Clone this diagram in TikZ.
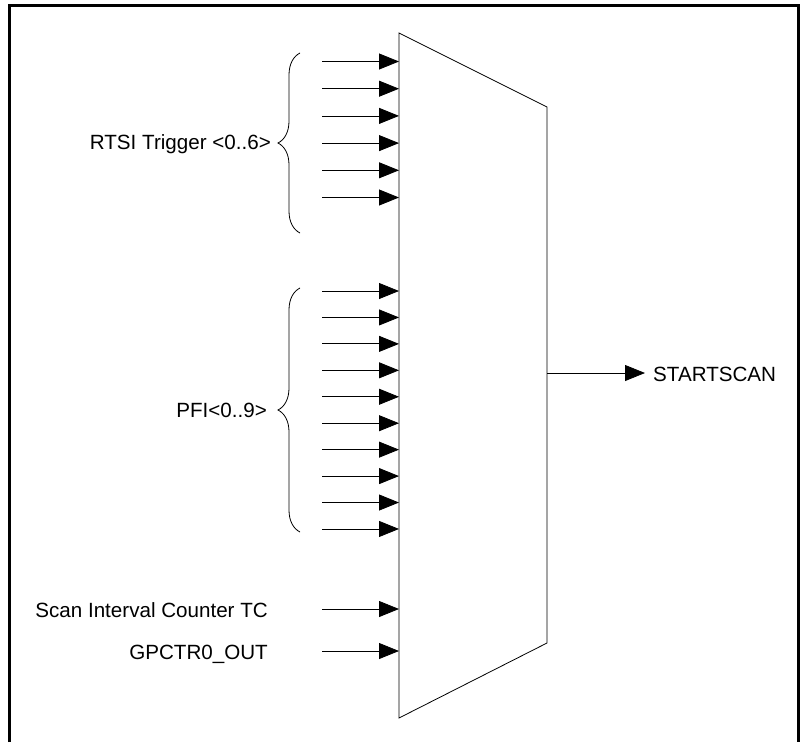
\documentclass[tikz,border=0pt]{standalone}
\usepackage{fontspec}
\setmainfont{Liberation Sans}
\usetikzlibrary{arrows.meta,decorations.pathreplacing}

\tikzset{
  sig/.style={line width=0.8pt, -{Triangle[length=20pt,width=16pt]}},
  lbl/.style={font=\fontsize{20.6}{24}\selectfont, inner sep=0pt},
  grp/.style={line width=0.8pt, decorate, decoration={brace, mirror, amplitude=22pt}}
}

\begin{document}
\begin{tikzpicture}[x=1pt, y=-1pt]
        \useasboundingbox (0,0) rectangle (800,742);
        % frame
        \draw[line width=3pt] (9,742) -- (9,5) -- (798,5) -- (798,742);
        % mux body
        \coordinate (muxTL) at (399,33);
        \coordinate (muxTR) at (547,107);
        \coordinate (muxBR) at (547,643);
        \coordinate (muxBL) at (399,718);
        \draw[line width=0.8pt] (muxTL) -- (muxTR) -- (muxBR) -- (muxBL) -- cycle;
        % RTSI inputs
        \foreach \i in {0,...,5} {
            \coordinate (rtsi\i) at (322, 61.5+27.2*\i);
            \coordinate (rtsiIn\i) at (399, 61.5+27.2*\i);
            \draw[sig] (rtsi\i) -- (rtsiIn\i);
        }
        \coordinate (rtsiTop) at (300,53);
        \coordinate (rtsiBot) at (300,233);
        \draw[grp] (rtsiTop) -- (rtsiBot);
        \node[lbl, anchor=base east] (rtsiLbl) at (271,149.5) {RTSI Trigger <0..6>};
        % PFI inputs
        \foreach \i in {0,...,9} {
            \coordinate (pfi\i) at (322, 291+26.44*\i);
            \coordinate (pfiIn\i) at (399, 291+26.44*\i);
            \draw[sig] (pfi\i) -- (pfiIn\i);
        }
        \coordinate (pfiTop) at (300,288);
        \coordinate (pfiBot) at (300,532);
        \draw[grp] (pfiTop) -- (pfiBot);
        \node[lbl, anchor=base east] (pfiLbl) at (267,417) {PFI<0..9>};
        % counter inputs
        \coordinate (sictc) at (322,609);
        \coordinate (sictcIn) at (399,609);
        \draw[sig] (sictc) -- (sictcIn);
        \node[lbl, anchor=base east] (sictcLbl) at (268,617.5) {Scan Interval Counter TC};
        \coordinate (gpctr) at (322,651);
        \coordinate (gpctrIn) at (399,651);
        \draw[sig] (gpctr) -- (gpctrIn);
        \node[lbl, anchor=base east] (gpctrLbl) at (268,659.5) {GPCTR0\_OUT};
        % output
        \node[lbl, anchor=base west] (start) at (653,381.5) {STARTSCAN};
        \coordinate (muxOut) at (547,373);
        \coordinate (startIn) at (645,373);
        \draw[sig] (muxOut) -- (startIn);
    \end{tikzpicture}
\end{document}
